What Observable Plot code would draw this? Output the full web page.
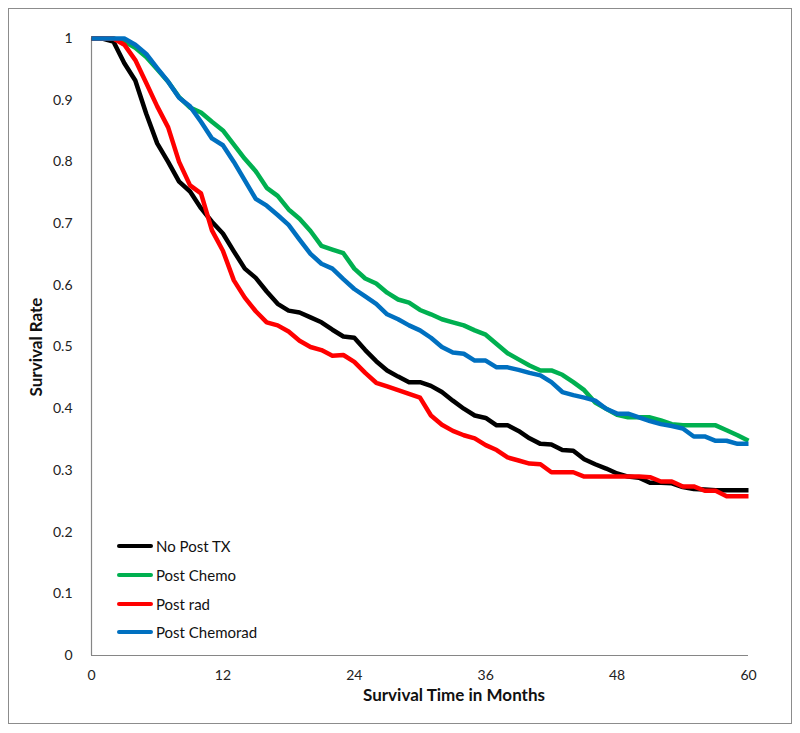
<!DOCTYPE html>
<html><head><meta charset="utf-8">
<script src="https://cdn.jsdelivr.net/npm/d3@7"></script>
<script src="https://cdn.jsdelivr.net/npm/@observablehq/plot@0.6"></script>
<style>
body{margin:0;background:#fff;}
#wrap{position:relative;width:800px;height:733px;font-family:Lato,"Open Sans",sans-serif;}
#frame{position:absolute;left:8px;top:8px;width:784px;height:716px;border:1.5px solid #8c8c8c;box-sizing:border-box;pointer-events:none;}
#legend{position:absolute;left:117px;top:532px;font-size:15px;color:#111;}
.li{display:flex;align-items:center;height:28.7px;}
.sw{width:36px;height:4px;border-radius:2px;margin-right:3px;}
</style></head>
<body><div id="wrap"><div id="frame"></div><div id="chart"></div><div id="legend"></div></div>
<script>
const months = d3.range(0, 61);
const seriesNames = ["No Post TX", "Post Chemo", "Post rad", "Post Chemorad"];
const seriesColors = ["#000000", "#00B050", "#FF0000", "#0070C0"];
const noPostTX = [1,1,0.995,0.96,0.932,0.878,0.83,0.80,0.768,0.752,0.725,0.703,0.684,0.655,0.627,0.612,0.59,0.57,0.559,0.556,0.548,0.54,0.528,0.517,0.515,0.495,0.477,0.462,0.452,0.443,0.443,0.437,0.427,0.413,0.40,0.389,0.385,0.373,0.373,0.364,0.352,0.343,0.342,0.333,0.332,0.318,0.31,0.303,0.295,0.29,0.288,0.28,0.28,0.279,0.273,0.27,0.269,0.268,0.268,0.268,0.268];
const postChemo = [1,1,1,0.995,0.985,0.97,0.95,0.93,0.905,0.888,0.88,0.865,0.851,0.828,0.805,0.785,0.758,0.745,0.723,0.708,0.688,0.664,0.658,0.652,0.627,0.611,0.603,0.588,0.577,0.572,0.56,0.553,0.545,0.54,0.535,0.527,0.52,0.505,0.49,0.48,0.47,0.462,0.462,0.455,0.443,0.43,0.41,0.40,0.39,0.386,0.386,0.386,0.381,0.375,0.373,0.373,0.373,0.373,0.365,0.357,0.348];
const postRad = [1,1,1,0.99,0.965,0.928,0.89,0.856,0.80,0.762,0.749,0.689,0.656,0.608,0.58,0.558,0.54,0.535,0.525,0.51,0.50,0.495,0.486,0.487,0.476,0.458,0.442,0.436,0.43,0.424,0.418,0.389,0.374,0.364,0.357,0.352,0.341,0.333,0.321,0.316,0.311,0.31,0.297,0.297,0.297,0.29,0.29,0.29,0.29,0.29,0.29,0.289,0.282,0.282,0.274,0.274,0.267,0.267,0.258,0.258,0.258];
const postChemorad = [1,1,1,1,0.99,0.975,0.952,0.93,0.904,0.89,0.865,0.838,0.827,0.80,0.77,0.74,0.729,0.714,0.698,0.674,0.651,0.635,0.627,0.61,0.594,0.582,0.57,0.553,0.545,0.535,0.527,0.515,0.50,0.491,0.489,0.478,0.478,0.467,0.467,0.463,0.458,0.454,0.443,0.427,0.422,0.418,0.413,0.40,0.392,0.392,0.386,0.38,0.375,0.372,0.368,0.355,0.355,0.348,0.348,0.343,0.343];
const xTicks = [0, 12, 24, 36, 48, 60];
const yTicks = [0, 0.1, 0.2, 0.3, 0.4, 0.5, 0.6, 0.7, 0.8, 0.9, 1];

const allSeries = [noPostTX, postChemo, postRad, postChemorad];
const rows = [];
allSeries.forEach((vals, si) => months.forEach((m, i) => rows.push({month: m, rate: vals[i], series: seriesNames[si]})));

const chart = Plot.plot({
  width: 800, height: 733,
  marginTop: 38, marginRight: 52, marginBottom: 78, marginLeft: 91,
  style: {fontFamily: "Lato, 'Open Sans', sans-serif", fontSize: "14px", color: "#222", background: "transparent"},
  x: {domain: [0, 60]},
  y: {domain: [0, 1]},
  color: {domain: seriesNames, range: seriesColors},
  marks: [
    Plot.axisX({ticks: xTicks, tickSize: 0, tickPadding: 15, label: null, fontSize: 14}),
    Plot.axisY({ticks: yTicks, tickSize: 0, tickPadding: 19, label: null, tickFormat: d => String(d), fontSize: 14}),
    Plot.ruleX([0], {stroke: "#868686", strokeWidth: 1.2}),
    Plot.ruleY([0], {stroke: "#868686", strokeWidth: 1.2}),
    Plot.line(rows, {x: "month", y: "rate", z: "series", stroke: "series", strokeWidth: 4.5, strokeLinejoin: "round", strokeLinecap: "butt"}),
    Plot.text(["Survival Time in Months"], {frameAnchor: "bottom", dy: 45, dx: 34, textAnchor: "middle", fontWeight: "bold", fontSize: 17, fill: "#111"}),
    Plot.text(["Survival Rate"], {frameAnchor: "left", dx: -55, textAnchor: "middle", rotate: -90, fontWeight: "bold", fontSize: 17, fill: "#111"})
  ]
});
document.getElementById("chart").appendChild(chart);

const legend = document.getElementById("legend");
seriesNames.forEach((n, i) => {
  const row = document.createElement("div"); row.className = "li";
  const sw = document.createElement("div"); sw.className = "sw"; sw.style.background = seriesColors[i];
  const t = document.createElement("span"); t.textContent = n;
  row.appendChild(sw); row.appendChild(t); legend.appendChild(row);
});
</script></body></html>
